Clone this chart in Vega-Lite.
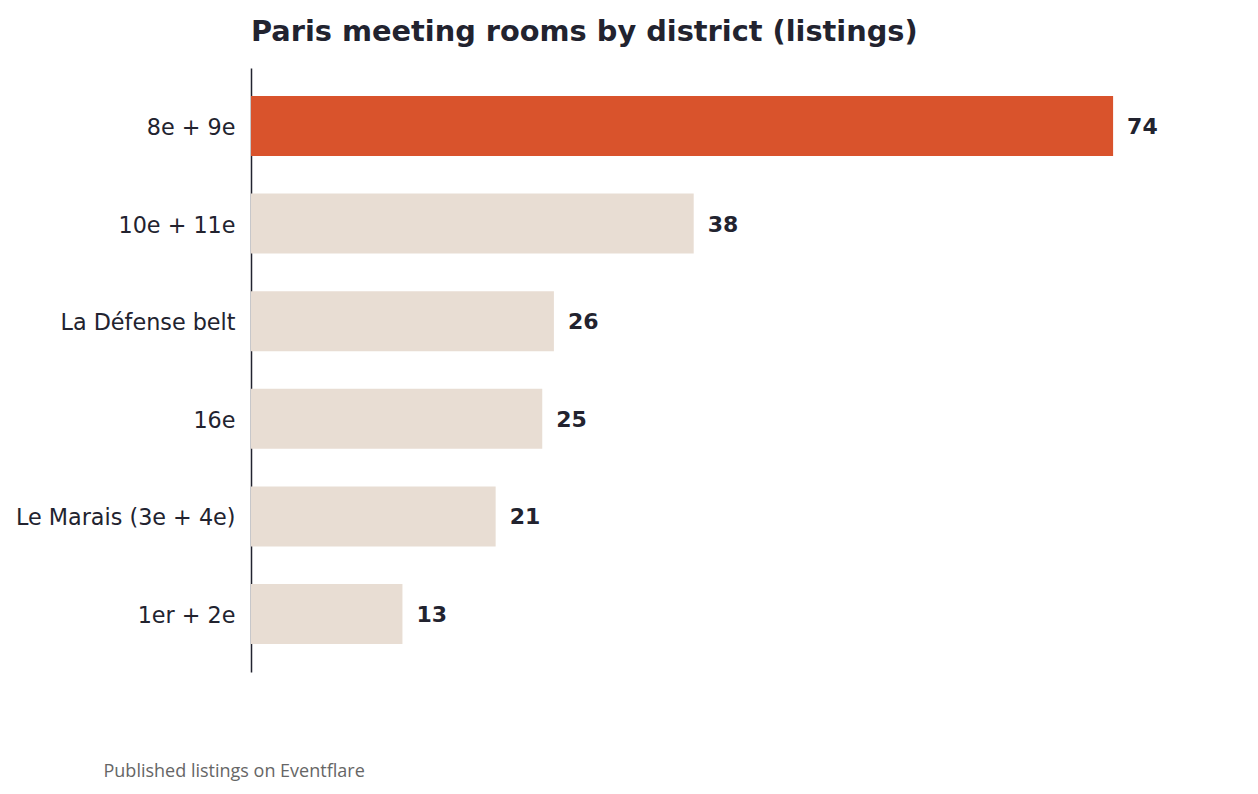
{
  "$schema": "https://vega.github.io/schema/vega-lite/v6.json",
  "autosize": {"type": "none"},
  "padding": {"left": 251, "top": 68, "right": 75, "bottom": 122},
  "width": 932,
  "height": 604,
  "background": "white",
  "title": {
    "text": "Paris meeting rooms by district (listings)",
    "anchor": "start",
    "frame": "group",
    "font": "DejaVu Sans",
    "fontSize": 28.8,
    "fontWeight": "bold",
    "color": "#22232f",
    "offset": 21
  },
  "config": {
    "view": {"stroke": null},
    "font": "DejaVu Sans"
  },
  "data": {
    "values": [
      {"district": "8e + 9e", "listings": 74, "highlight": "yes"},
      {"district": "10e + 11e", "listings": 38, "highlight": "no"},
      {"district": "La Défense belt", "listings": 26, "highlight": "no"},
      {"district": "16e", "listings": 25, "highlight": "no"},
      {"district": "Le Marais (3e + 4e)", "listings": 21, "highlight": "no"},
      {"district": "1er + 2e", "listings": 13, "highlight": "no"}
    ]
  },
  "encoding": {
    "y": {
      "field": "district",
      "type": "nominal",
      "sort": null,
      "scale": {"paddingInner": 0.385, "paddingOuter": 0.287},
      "axis": {
        "title": null,
        "ticks": false,
        "labelFontSize": 22.3,
        "labelLimit": 400,
        "labelColor": "#22232f",
        "labelPadding": 16,
        "labelOffset": 2,
        "domainColor": "#22232f",
        "domainWidth": 1.5
      }
    },
    "x": {
      "field": "listings",
      "type": "quantitative",
      "scale": {"domain": [0, 80], "nice": false},
      "axis": {
        "title": "Published listings on Eventflare",
        "titleFont": "Open Sans",
        "titleFontSize": 18,
        "titleFontWeight": "normal",
        "titleColor": "#666666",
        "titleAnchor": "start",
        "titleAlign": "left",
        "titleBaseline": "alphabetic",
        "titleX": -148,
        "titleY": 104,
        "labels": false,
        "ticks": false,
        "domain": false,
        "grid": false
      }
    }
  },
  "layer": [
    {
      "mark": {"type": "bar"},
      "encoding": {
        "color": {
          "field": "highlight",
          "type": "nominal",
          "scale": {"domain": ["yes", "no"], "range": ["#d9532c", "#e8ddd3"]},
          "legend": null
        }
      }
    },
    {
      "mark": {
        "type": "text",
        "align": "left",
        "baseline": "middle",
        "dx": 14,
        "dy": 1,
        "fontSize": 22,
        "fontWeight": "bold",
        "color": "#22232f"
      },
      "encoding": {
        "text": {"field": "listings", "type": "quantitative"}
      }
    }
  ]
}
